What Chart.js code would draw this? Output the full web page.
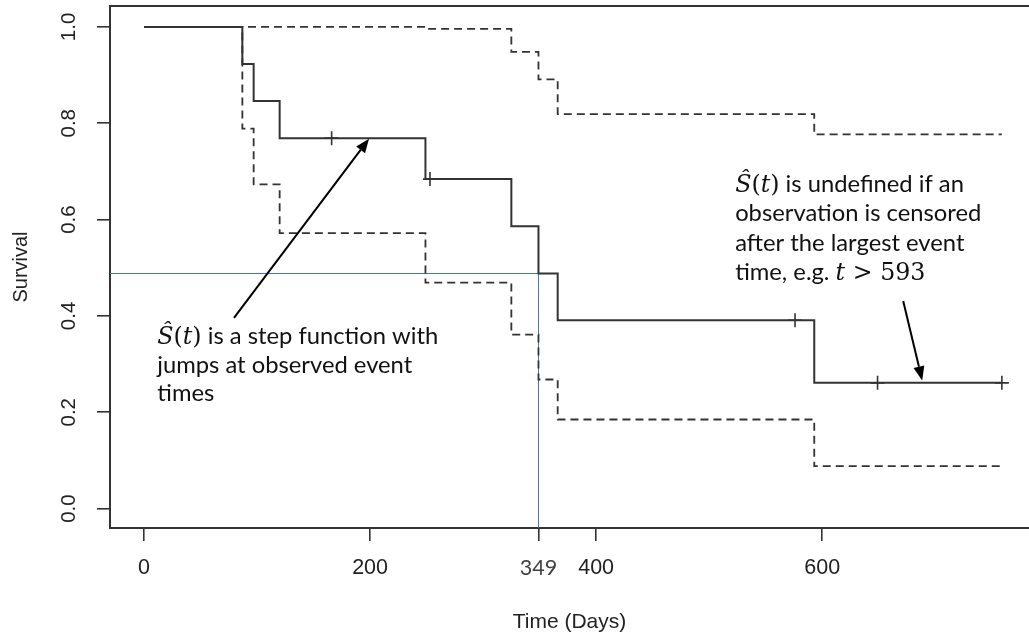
<!DOCTYPE html>
<html>
<head>
<meta charset="utf-8">
<script src="https://cdn.jsdelivr.net/npm/chart.js@4.4.1/dist/chart.umd.min.js"></script>
<style>
  html, body { margin: 0; padding: 0; background: #ffffff; overflow: hidden; }
  #wrap { position: relative; width: 1029px; height: 636px; }
</style>
</head>
<body>
<div id="wrap"><canvas id="km" width="1029" height="636"></canvas></div>
<script>
// Kaplan–Meier survival estimate with pointwise confidence limits
const kmTimes = [0, 87, 97, 120, 249, 325, 349, 366, 593, 759];
const kmSurv  = [1.0, 0.923, 0.846, 0.769, 0.684, 0.586, 0.488, 0.391, 0.261, 0.261];

const upperTimes = [0, 87, 249, 325, 349, 366, 593, 759];
const upperSurv  = [1.0, 1.0, 0.996, 0.948, 0.891, 0.819, 0.777, 0.777];

const lowerTimes = [0, 87, 97, 120, 249, 325, 349, 366, 593, 759];
const lowerSurv  = [1.0, 0.789, 0.673, 0.572, 0.469, 0.361, 0.268, 0.185, 0.088, 0.088];

// censored observations, marked with "+"
const censorTimes = [166, 253, 576, 649, 759];
const censorSurv  = [0.769, 0.684, 0.391, 0.261, 0.261];

const xTickValues = [0, 200, 349, 400, 600];
const yTickValues = [0, 0.2, 0.4, 0.6, 0.8, 1.0];
const yTickLabels = ['0.0', '0.2', '0.4', '0.6', '0.8', '1.0'];

// median survival read-off
const medianTime  = 349;
const medianLevel = 0.49;

const toPoints = (xs, ys) => xs.map((x, i) => ({ x: x, y: ys[i] }));

const INK = '#333333';
const SANS = '"Liberation Sans", Arial, sans-serif';
const NOTE = 'Lato, "Open Sans", sans-serif';
const MATH = '"DejaVu Serif", "Liberation Serif", serif';

// Annotation text blocks; math pieces are tagged with a style
const noteStep = {
  at: [11.7, 0.342],
  lines: [
    [['Ŝ', 'mi'], ['(', 'mr'], ['t', 'mi'], [')', 'mr'], [' is a step function with', 'txt']],
    [['jumps at observed event', 'txt']],
    [['times', 'txt']]
  ],
  arrowFrom: [79.6, 0.396],
  arrowTo: [199.1, 0.768]
};
const noteUndef = {
  at: [523, 0.657],
  lines: [
    [['Ŝ', 'mi'], ['(', 'mr'], ['t', 'mi'], [')', 'mr'], [' is undefined if an', 'txt']],
    [['observation is censored', 'txt']],
    [['after the largest event', 'txt']],
    [['time, e.g. ', 'txt'], ['t', 'mi'], [' > 593', 'mr']]
  ],
  arrowFrom: [671.7, 0.431],
  arrowTo: [688.5, 0.266]
};

function noteFonts(ctx) {
  ctx.font = '100px ' + NOTE;
  const w = ctx.measureText('jumps at observed event').width;
  const size = 100 * 255 / w;
  return {
    txt: size.toFixed(2) + 'px ' + NOTE,
    mi: 'italic ' + size.toFixed(2) + 'px ' + MATH,
    mr: size.toFixed(2) + 'px ' + MATH
  };
}

function drawNote(ctx, xs, ys, note, fonts, lineGap) {
  const x0 = xs.getPixelForValue(note.at[0]);
  const y0 = ys.getPixelForValue(note.at[1]);
  ctx.fillStyle = '#111111';
  ctx.textAlign = 'left';
  ctx.textBaseline = 'alphabetic';
  note.lines.forEach((segs, li) => {
    let x = x0;
    const y = y0 + li * lineGap;
    segs.forEach(([text, style]) => {
      ctx.font = fonts[style];
      ctx.fillText(text, x, y);
      x += ctx.measureText(text).width;
    });
  });
}

function drawArrow(ctx, xs, ys, from, to) {
  const x1 = xs.getPixelForValue(from[0]), y1 = ys.getPixelForValue(from[1]);
  const x2 = xs.getPixelForValue(to[0]),   y2 = ys.getPixelForValue(to[1]);
  const ang = Math.atan2(y2 - y1, x2 - x1);
  const headLen = 14, headHalf = 5.5;
  const bx = x2 - headLen * Math.cos(ang), by = y2 - headLen * Math.sin(ang);
  ctx.strokeStyle = '#000000';
  ctx.fillStyle = '#000000';
  ctx.lineWidth = 2;
  ctx.beginPath();
  ctx.moveTo(x1, y1);
  ctx.lineTo(bx, by);
  ctx.stroke();
  ctx.beginPath();
  ctx.moveTo(x2, y2);
  ctx.lineTo(bx - headHalf * Math.sin(ang), by + headHalf * Math.cos(ang));
  ctx.lineTo(bx + headHalf * Math.sin(ang), by - headHalf * Math.cos(ang));
  ctx.closePath();
  ctx.fill();
}

const decorations = {
  id: 'decorations',
  beforeDatasetsDraw(chart) {
    const { ctx, chartArea: a, scales: { x: xs, y: ys } } = chart;
    // median guide lines
    const mx = xs.getPixelForValue(medianTime);
    const my = ys.getPixelForValue(medianLevel);
    ctx.save();
    ctx.strokeStyle = '#4472C4';
    ctx.lineWidth = 1;
    ctx.beginPath();
    ctx.moveTo(a.left, Math.round(my) + 0.5);
    ctx.lineTo(Math.round(mx) + 0.5, Math.round(my) + 0.5);
    ctx.lineTo(Math.round(mx) + 0.5, a.bottom);
    ctx.stroke();
    ctx.restore();
  },
  afterDraw(chart) {
    const { ctx, chartArea: a, scales: { x: xs, y: ys } } = chart;
    ctx.save();
    // top edge of the plot frame
    ctx.strokeStyle = INK;
    ctx.lineWidth = 2;
    ctx.beginPath();
    ctx.moveTo(a.left - 1, a.top);
    ctx.lineTo(a.right, a.top);
    ctx.stroke();

    // y tick labels, written along the axis
    ctx.fillStyle = '#222222';
    ctx.font = '20.5px ' + SANS;
    ctx.textAlign = 'center';
    ctx.textBaseline = 'middle';
    yTickValues.forEach((v, i) => {
      const y = ys.getPixelForValue(v);
      ctx.save();
      ctx.translate(a.left - 41, y);
      ctx.rotate(-Math.PI / 2);
      ctx.fillText(yTickLabels[i], 0, 0);
      ctx.restore();
    });

    // annotations
    const fonts = noteFonts(ctx);
    drawNote(ctx, xs, ys, noteStep, fonts, 28.7);
    drawNote(ctx, xs, ys, noteUndef, fonts, 29.2);
    drawArrow(ctx, xs, ys, noteStep.arrowFrom, noteStep.arrowTo);
    drawArrow(ctx, xs, ys, noteUndef.arrowFrom, noteUndef.arrowTo);
    ctx.restore();
  }
};

new Chart(document.getElementById('km'), {
  type: 'line',
  data: {
    datasets: [
      {
        label: 'Survival',
        data: toPoints(kmTimes, kmSurv),
        stepped: 'before',
        borderColor: INK,
        borderWidth: 2,
        pointRadius: 0,
        fill: false
      },
      {
        label: 'Censored',
        data: toPoints(censorTimes, censorSurv),
        showLine: false,
        pointStyle: 'cross',
        pointRadius: 7,
        pointBorderWidth: 1.6,
        pointBorderColor: INK,
        borderColor: INK
      },
      {
        label: 'Upper limit',
        data: toPoints(upperTimes, upperSurv),
        stepped: 'before',
        borderColor: INK,
        borderWidth: 1.8,
        borderDash: [8, 5],
        pointRadius: 0,
        fill: false
      },
      {
        label: 'Lower limit',
        data: toPoints(lowerTimes, lowerSurv),
        stepped: 'before',
        borderColor: INK,
        borderWidth: 1.8,
        borderDash: [8, 5],
        pointRadius: 0,
        fill: false
      }
    ]
  },
  options: {
    responsive: false,
    animation: false,
    events: [],
    layout: { autoPadding: false, padding: { top: 6, right: 0, left: 0, bottom: 0 } },
    plugins: { legend: { display: false }, tooltip: { enabled: false } },
    scales: {
      x: {
        type: 'linear',
        min: -30.1,
        max: 783,
        afterBuildTicks: s => { s.ticks = xTickValues.map(v => ({ value: v })); },
        afterFit: s => { s.height = 108; s.paddingLeft = 0; s.paddingRight = 0; },
        grid: { drawOnChartArea: false, drawTicks: true, tickLength: 13, color: INK, lineWidth: 1.6 },
        border: { display: true, color: INK, width: 2 },
        ticks: {
          autoSkip: false,
          maxRotation: 0,
          padding: 14,
          callback: v => String(v),
          color: c => (c.tick && c.tick.value === medianTime) ? '#404040' : '#222222',
          font: c => (c.tick && c.tick.value === medianTime)
            ? { family: NOTE, size: 21.5, lineHeight: 1.2 }
            : { family: SANS, size: 21.5, lineHeight: 1.2 }
        },
        title: {
          display: true,
          text: 'Time (Days)',
          color: '#222222',
          font: { family: SANS, size: 21, lineHeight: 1.2 },
          padding: { top: 0, bottom: 1.5 }
        }
      },
      y: {
        type: 'linear',
        min: -0.0403,
        max: 1.0434,
        afterBuildTicks: s => { s.ticks = yTickValues.map(v => ({ value: v })); },
        afterFit: s => { s.width = 110; s.paddingTop = 0; s.paddingBottom = 0; },
        grid: { drawOnChartArea: false, drawTicks: true, tickLength: 13, color: INK, lineWidth: 1.6 },
        border: { display: true, color: INK, width: 2 },
        ticks: { display: false },
        title: {
          display: true,
          text: 'Survival',
          color: '#222222',
          font: { family: SANS, size: 20, lineHeight: 1.2 },
          padding: { top: 9, bottom: 0 }
        }
      }
    }
  },
  plugins: [decorations]
});
</script>
</body>
</html>
